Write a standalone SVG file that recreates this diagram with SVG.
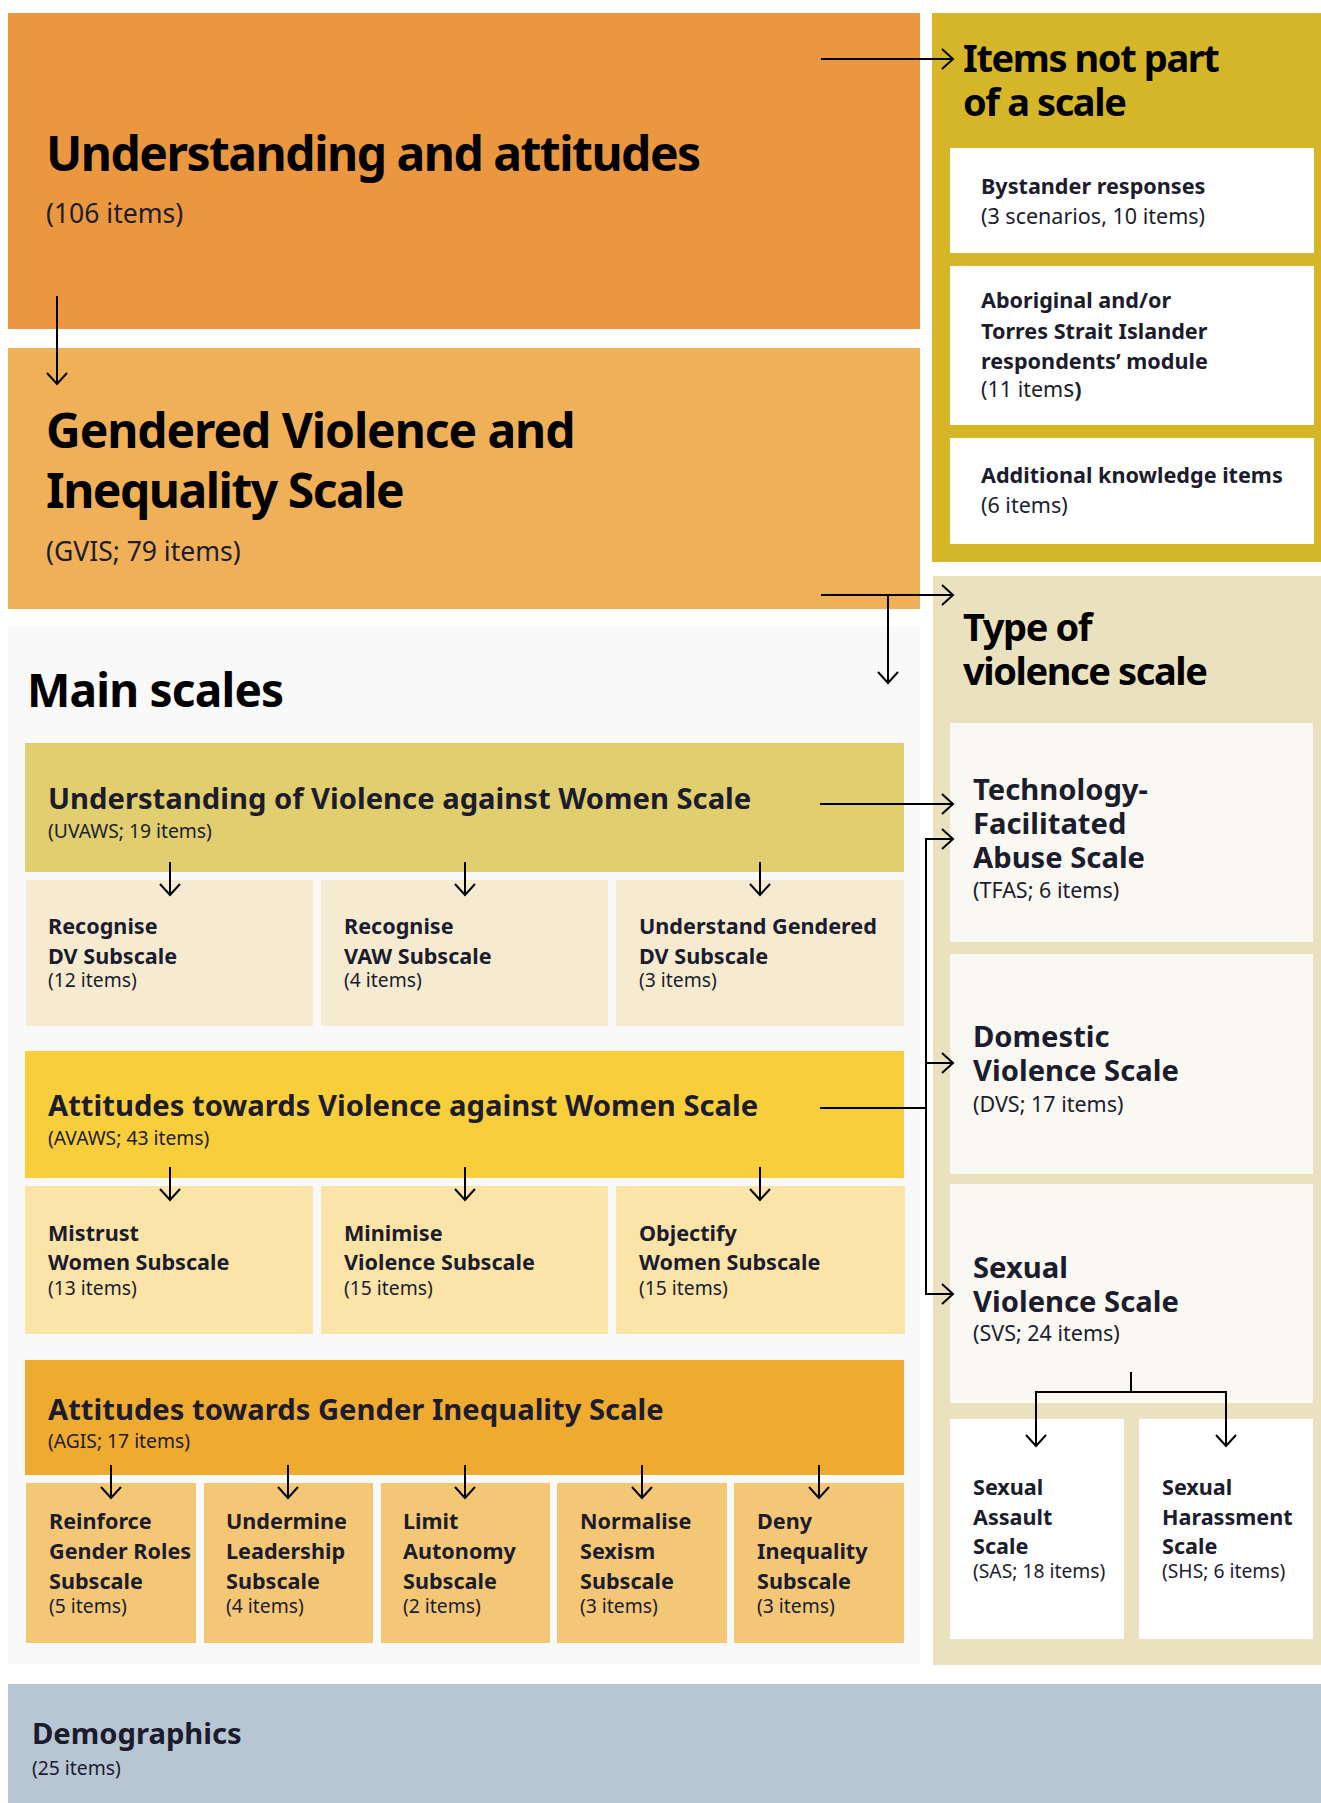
<svg xmlns="http://www.w3.org/2000/svg" width="1321" height="1803" viewBox="0 0 1321 1803">
  <style>
    text { font-family: "Noto Sans", "Open Sans", sans-serif; fill: #1c1c2c; }
    .h1 { font-size: 48px; font-weight: 700; fill: #000; letter-spacing: -1.5px; }
    .h2 { font-size: 38px; font-weight: 700; fill: #000; letter-spacing: -1.4px; }
    .h3 { font-size: 46px; font-weight: 700; fill: #000; letter-spacing: -0.8px; }
    .t29 { font-size: 29.2px; font-weight: 700; }
    .b21 { font-size: 21.6px; font-weight: 700; }
    .r26 { font-size: 26.5px; }
    .r21 { font-size: 21.5px; }
    .r19 { font-size: 19.3px; }
    .conn { stroke: #000; stroke-width: 2; fill: none; }
  </style>
  <defs>
    <marker id="arrow" viewBox="0 0 14 22" refX="12" refY="11" markerWidth="14" markerHeight="22" markerUnits="userSpaceOnUse" orient="auto">
      <path d="M1,1 L12,11 L1,21" fill="none" stroke="#000" stroke-width="2"/>
    </marker>
  </defs>

  <rect width="1321" height="1803" fill="#ffffff"/>

  <!-- Overview -->
  <g id="understanding-attitudes">
    <rect x="8" y="13" width="912" height="316" fill="#EA973F"/>
    <text class="h1" x="46" y="171">Understanding and attitudes</text>
    <text class="r26" x="46" y="223" fill="#111">(106 items)</text>
  </g>

  <g id="gvis">
    <rect x="8" y="348" width="912" height="261" fill="#F0B058"/>
    <text class="h1" x="46" y="448" style="letter-spacing:-1.1px">Gendered Violence and</text>
    <text class="h1" x="46" y="508">Inequality Scale</text>
    <text class="r26" x="46" y="561">(GVIS; 79 items)</text>
  </g>

  <!-- Items outside the scales -->
  <g id="items-not-in-scale">
    <rect x="932" y="13" width="389" height="549" fill="#D4B628"/>
    <text class="h2" x="963" y="72">Items not part</text>
    <text class="h2" x="963" y="116">of a scale</text>
  </g>
  <g id="bystander">
    <rect x="950" y="148" width="364" height="105" fill="#ffffff"/>
    <text class="b21" x="981" y="194">Bystander responses</text>
    <text class="r21" x="981" y="224">(3 scenarios, 10 items)</text>
  </g>
  <g id="atsi-module">
    <rect x="950" y="266" width="364" height="159" fill="#ffffff"/>
    <text class="b21" x="981" y="308">Aboriginal and/or</text>
    <text class="b21" x="981" y="339">Torres Strait Islander</text>
    <text class="b21" x="981" y="369">respondents’ module</text>
    <text class="r21" x="981" y="397">(11 item<tspan font-size="23px">s</tspan><tspan font-weight="700">)</tspan></text>
  </g>
  <g id="knowledge-items">
    <rect x="950" y="438" width="364" height="106" fill="#ffffff"/>
    <text class="b21" x="981" y="483">Additional knowledge items</text>
    <text class="r21" x="981" y="513">(6 items)</text>
  </g>

  <!-- Type of violence scale -->
  <g id="type-of-violence">
    <rect x="933" y="576" width="388" height="1089" fill="#EAE1BE"/>
    <text class="h2" x="963" y="641">Type of</text>
    <text class="h2" x="963" y="685">violence scale</text>
  </g>
  <g id="tfas">
    <rect x="950" y="723" width="363" height="219" fill="#F9F8F3"/>
    <text class="t29" x="973" y="800">Technology-</text>
    <text class="t29" x="973" y="834">Facilitated</text>
    <text class="t29" x="973" y="868">Abuse Scale</text>
    <text class="r21" x="973" y="898">(TFAS; 6 items)</text>
  </g>
  <g id="dvs">
    <rect x="950" y="954" width="363" height="220" fill="#F9F8F3"/>
    <text class="t29" x="973" y="1047">Domestic</text>
    <text class="t29" x="973" y="1081">Violence Scale</text>
    <text class="r21" x="973" y="1112">(DVS; 17 items)</text>
  </g>
  <g id="svs">
    <rect x="950" y="1184" width="363" height="219" fill="#F9F8F3"/>
    <text class="t29" x="973" y="1278">Sexual</text>
    <text class="t29" x="973" y="1312">Violence Scale</text>
    <text class="r21" x="973" y="1341">(SVS; 24 items)</text>
  </g>
  <g id="sas">
    <rect x="950" y="1419" width="174" height="220" fill="#ffffff"/>
    <text class="b21" x="973" y="1495">Sexual</text>
    <text class="b21" x="973" y="1525">Assault</text>
    <text class="b21" x="973" y="1554">Scale</text>
    <text class="r19" x="973" y="1578">(SAS; 18 items)</text>
  </g>
  <g id="shs">
    <rect x="1139" y="1419" width="174" height="220" fill="#ffffff"/>
    <text class="b21" x="1162" y="1495">Sexual</text>
    <text class="b21" x="1162" y="1525">Harassment</text>
    <text class="b21" x="1162" y="1554">Scale</text>
    <text class="r19" x="1162" y="1578">(SHS; 6 items)</text>
  </g>

  <!-- Main scales -->
  <g id="main-scales">
    <rect x="8" y="627" width="912" height="1037" fill="#F9F9F9"/>
    <text class="h3" x="27" y="707">Main scales</text>
  </g>

  <g id="uvaws">
    <rect x="25" y="743" width="879" height="129" fill="#E0CE6F"/>
    <text class="t29" x="48" y="809">Understanding of Violence against Women Scale</text>
    <text class="r19" x="48" y="838">(UVAWS; 19 items)</text>
  </g>
  <g id="recognise-dv">
    <rect x="26" y="880" width="287" height="146" fill="#F6EBD1"/>
    <text class="b21" x="48" y="934">Recognise</text>
    <text class="b21" x="48" y="964">DV Subscale</text>
    <text class="r19" x="48" y="987">(12 items)</text>
  </g>
  <g id="recognise-vaw">
    <rect x="321" y="880" width="287" height="146" fill="#F6EBD1"/>
    <text class="b21" x="344" y="934">Recognise</text>
    <text class="b21" x="344" y="964">VAW Subscale</text>
    <text class="r19" x="344" y="987">(4 items)</text>
  </g>
  <g id="understand-gendered-dv">
    <rect x="616" y="880" width="288" height="146" fill="#F6EBD1"/>
    <text class="b21" x="639" y="934">Understand Gendered</text>
    <text class="b21" x="639" y="964">DV Subscale</text>
    <text class="r19" x="639" y="987">(3 items)</text>
  </g>

  <g id="avaws">
    <rect x="25" y="1051" width="879" height="127" fill="#F8CE3B"/>
    <text class="t29" x="48" y="1116">Attitudes towards Violence against Women Scale</text>
    <text class="r19" x="48" y="1145">(AVAWS; 43 items)</text>
  </g>
  <g id="mistrust-women">
    <rect x="25" y="1186" width="288" height="148" fill="#FBE4A8"/>
    <text class="b21" x="48" y="1241">Mistrust</text>
    <text class="b21" x="48" y="1270">Women Subscale</text>
    <text class="r19" x="48" y="1295">(13 items)</text>
  </g>
  <g id="minimise-violence">
    <rect x="321" y="1186" width="287" height="148" fill="#FBE4A8"/>
    <text class="b21" x="344" y="1241">Minimise</text>
    <text class="b21" x="344" y="1270">Violence Subscale</text>
    <text class="r19" x="344" y="1295">(15 items)</text>
  </g>
  <g id="objectify-women">
    <rect x="616" y="1186" width="289" height="148" fill="#FBE4A8"/>
    <text class="b21" x="639" y="1241">Objectify</text>
    <text class="b21" x="639" y="1270">Women Subscale</text>
    <text class="r19" x="639" y="1295">(15 items)</text>
  </g>

  <g id="agis">
    <rect x="25" y="1360" width="879" height="115" fill="#EFAB2F"/>
    <text class="t29" x="48" y="1420">Attitudes towards Gender Inequality Scale</text>
    <text class="r19" x="48" y="1448">(AGIS; 17 items)</text>
  </g>
  <g id="reinforce-roles">
    <rect x="26" y="1483" width="170" height="160" fill="#F3C775"/>
    <text class="b21" x="49" y="1529">Reinforce</text>
    <text class="b21" x="49" y="1559">Gender Roles</text>
    <text class="b21" x="49" y="1589">Subscale</text>
    <text class="r19" x="49" y="1613">(5 items)</text>
  </g>
  <g id="undermine-leadership">
    <rect x="204" y="1483" width="169" height="160" fill="#F3C775"/>
    <text class="b21" x="226" y="1529">Undermine</text>
    <text class="b21" x="226" y="1559">Leadership</text>
    <text class="b21" x="226" y="1589">Subscale</text>
    <text class="r19" x="226" y="1613">(4 items)</text>
  </g>
  <g id="limit-autonomy">
    <rect x="381" y="1483" width="169" height="160" fill="#F3C775"/>
    <text class="b21" x="403" y="1529">Limit</text>
    <text class="b21" x="403" y="1559">Autonomy</text>
    <text class="b21" x="403" y="1589">Subscale</text>
    <text class="r19" x="403" y="1613">(2 items)</text>
  </g>
  <g id="normalise-sexism">
    <rect x="557" y="1483" width="170" height="160" fill="#F3C775"/>
    <text class="b21" x="580" y="1529">Normalise</text>
    <text class="b21" x="580" y="1559">Sexism</text>
    <text class="b21" x="580" y="1589">Subscale</text>
    <text class="r19" x="580" y="1613">(3 items)</text>
  </g>
  <g id="deny-inequality">
    <rect x="734" y="1483" width="170" height="160" fill="#F3C775"/>
    <text class="b21" x="757" y="1529">Deny</text>
    <text class="b21" x="757" y="1559">Inequality</text>
    <text class="b21" x="757" y="1589">Subscale</text>
    <text class="r19" x="757" y="1613">(3 items)</text>
  </g>

  <g id="demographics">
    <rect x="8" y="1684" width="1313" height="119" fill="#B8C6D3"/>
    <text class="t29" x="32" y="1744">Demographics</text>
    <text class="r19" x="32" y="1775">(25 items)</text>
  </g>

  <!-- Connectors -->
  <g id="connectors" class="conn">
    <line x1="821" y1="59" x2="953" y2="59" marker-end="url(#arrow)"/>
    <line x1="57" y1="296" x2="57" y2="384" marker-end="url(#arrow)"/>
    <line x1="821" y1="595" x2="953" y2="595" marker-end="url(#arrow)"/>
    <line x1="888" y1="595" x2="888" y2="683" marker-end="url(#arrow)"/>
    <line x1="820" y1="804" x2="953" y2="804" marker-end="url(#arrow)"/>

    <line x1="170" y1="862" x2="170" y2="895" marker-end="url(#arrow)"/>
    <line x1="465" y1="862" x2="465" y2="895" marker-end="url(#arrow)"/>
    <line x1="760" y1="862" x2="760" y2="895" marker-end="url(#arrow)"/>

    <line x1="170" y1="1167" x2="170" y2="1200" marker-end="url(#arrow)"/>
    <line x1="465" y1="1167" x2="465" y2="1200" marker-end="url(#arrow)"/>
    <line x1="760" y1="1167" x2="760" y2="1200" marker-end="url(#arrow)"/>

    <line x1="111" y1="1465" x2="111" y2="1498" marker-end="url(#arrow)"/>
    <line x1="288" y1="1465" x2="288" y2="1498" marker-end="url(#arrow)"/>
    <line x1="465" y1="1465" x2="465" y2="1498" marker-end="url(#arrow)"/>
    <line x1="642" y1="1465" x2="642" y2="1498" marker-end="url(#arrow)"/>
    <line x1="819" y1="1465" x2="819" y2="1498" marker-end="url(#arrow)"/>

    <line x1="820" y1="1108" x2="926" y2="1108"/>
    <line x1="926" y1="838" x2="926" y2="1295"/>
    <line x1="925" y1="839" x2="953" y2="839" marker-end="url(#arrow)"/>
    <line x1="925" y1="1063" x2="953" y2="1063" marker-end="url(#arrow)"/>
    <line x1="925" y1="1294" x2="953" y2="1294" marker-end="url(#arrow)"/>

    <line x1="1131" y1="1372" x2="1131" y2="1392"/>
    <polyline points="1036,1446 1036,1392 1226,1392 1226,1446"/>
    <line x1="1036" y1="1420" x2="1036" y2="1446" marker-end="url(#arrow)"/>
    <line x1="1226" y1="1420" x2="1226" y2="1446" marker-end="url(#arrow)"/>
  </g>
</svg>
